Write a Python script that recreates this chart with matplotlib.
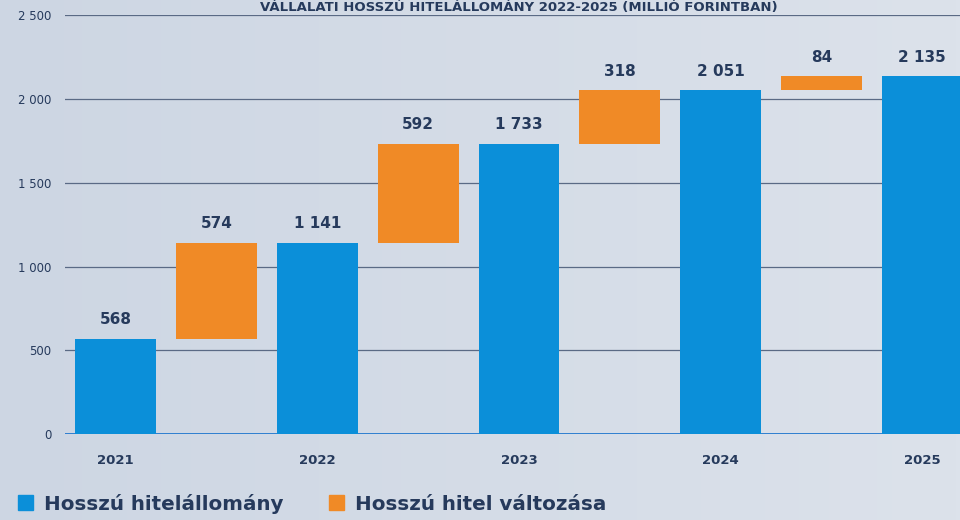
import numpy as np
import matplotlib.pyplot as plt
from matplotlib.patches import Patch
from matplotlib.colors import LinearSegmentedColormap

years = ["2021", "2022", "2023", "2024", "2025"]
stock = [568, 1141, 1733, 2051, 2135]
change = [574, 592, 318, 84]

blue = "#0b8fd9"
orange = "#f08a26"
navy = "#263a5c"
bg = "#d5dde8"

plt.rcParams['font.family'] = ['DejaVu Sans']

fig = plt.figure(figsize=(9.6, 5.2), dpi=100)
fig.patch.set_facecolor(bg)

# soft background gradient
bgax = fig.add_axes([0, 0, 1, 1], zorder=-1)
grad = np.linspace(0, 1, 256).reshape(1, -1)
bgax.imshow(grad, aspect="auto", extent=[0, 1, 0, 1],
            cmap=LinearSegmentedColormap.from_list("g", ["#cdd6e3", "#dce2eb"]))
bgax.axis("off")

ax = fig.add_axes([0.068, 0.165, 0.94, 0.806])
ax.set_facecolor("none")

# positions: stock bars on even slots, change bars in between
stock_x = [2 * i for i in range(len(stock))]
change_x = [2 * i + 1 for i in range(len(change))]
bottoms = stock[:-1]

ax.bar(stock_x, stock, width=0.8, color=blue, zorder=3)
ax.bar(change_x, change, bottom=bottoms, width=0.8, color=orange, zorder=3)

def fmt(v):
    return f"{v:,}".replace(",", " ")

for x, v in zip(stock_x, stock):
    ax.text(x, v + 70, fmt(v), ha="center", va="bottom", fontsize=11,
            fontweight="bold", color=navy)
for x, b, v in zip(change_x, bottoms, change):
    ax.text(x, b + v + 70, fmt(v), ha="center", va="bottom", fontsize=11,
            fontweight="bold", color=navy)

ax.set_ylim(0, 2500)
ax.set_xlim(-0.5, 8.45)
ax.set_yticks(range(0, 2501, 500))
ax.set_yticklabels([fmt(v) for v in range(0, 2501, 500)], fontsize=8.5,
                   color=navy)
ax.set_xticks(stock_x)
ax.set_xticklabels(years, fontsize=9.5, fontweight="bold", color=navy)
ax.tick_params(length=0, pad=10)
ax.tick_params(axis="x", pad=14)
ax.yaxis.grid(True, color="#5a6a85", linewidth=0.9)
ax.set_axisbelow(True)
ax.axhline(0, color="#2f7fd0", linewidth=1.4, zorder=2)
for s in ax.spines.values():
    s.set_visible(False)

fig.text(0.54, 0.999, "VÁLLALATI HOSSZÚ HITELÁLLOMÁNY 2022-2025 (MILLIÓ FORINTBAN)",
         ha="center", va="top", fontsize=9.5, fontweight="bold", color=navy)

handles = [Patch(color=blue), Patch(color=orange)]
fig.legend(handles, ["Hosszú hitelállomány", "Hosszú hitel változása"],
           loc="lower left", bbox_to_anchor=(0.0, -0.022), ncol=2, frameon=False,
           handlelength=0.75, handleheight=0.75, handletextpad=0.55, columnspacing=2.3,
           prop={"size": 14.3, "weight": "bold"}, labelcolor=navy)

fig.savefig("out.png", dpi=100, facecolor=fig.get_facecolor())
